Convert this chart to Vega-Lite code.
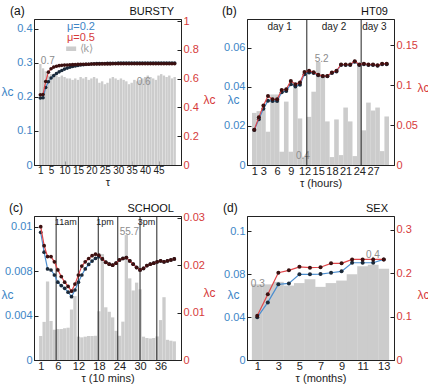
{
"$schema": "https://vega.github.io/schema/vega-lite/v6.json",
"background": "white",
"autosize": {"type": "pad"},
"padding": {"left": 0, "top": 4, "right": 0, "bottom": 0},
"columns": 2,
"bounds": "flush",
"spacing": {"row": 51, "column": 66},
"resolve": {"scale": {"x": "independent", "y": "independent", "color": "independent"}},
"concat": [
{
 "width": 147, "height": 146,
 "data": {"values": [
  {"T":1,"k":0.70,"b":0.197,"r":0.488},{"T":2,"k":0.67,"b":0.198,"r":0.490},{"T":3,"k":0.65,"b":0.228,"r":0.580},
  {"T":4,"k":0.62,"b":0.245,"r":0.645},{"T":5,"k":0.63,"b":0.256,"r":0.668},{"T":6,"k":0.61,"b":0.263,"r":0.680},
  {"T":7,"k":0.62,"b":0.269,"r":0.686},{"T":8,"k":0.61,"b":0.274,"r":0.690},{"T":9,"k":0.62,"b":0.278,"r":0.692},
  {"T":10,"k":0.61,"b":0.282,"r":0.694},{"T":11,"k":0.60,"b":0.285,"r":0.695},{"T":12,"k":0.60,"b":0.2875,"r":0.696},
  {"T":13,"k":0.59,"b":0.290,"r":0.697},{"T":14,"k":0.60,"b":0.2915,"r":0.698},{"T":15,"k":0.59,"b":0.293,"r":0.699},
  {"T":16,"k":0.61,"b":0.294,"r":0.700},{"T":17,"k":0.60,"b":0.295,"r":0.700},{"T":18,"k":0.61,"b":0.296,"r":0.700},
  {"T":19,"k":0.59,"b":0.2965,"r":0.700},{"T":20,"k":0.60,"b":0.297,"r":0.701},{"T":21,"k":0.61,"b":0.2975,"r":0.701},
  {"T":22,"k":0.60,"b":0.298,"r":0.701},{"T":23,"k":0.57,"b":0.298,"r":0.701},{"T":24,"k":0.58,"b":0.2985,"r":0.702},
  {"T":25,"k":0.56,"b":0.2985,"r":0.702},{"T":26,"k":0.57,"b":0.299,"r":0.702},{"T":27,"k":0.60,"b":0.299,"r":0.702},
  {"T":28,"k":0.61,"b":0.299,"r":0.703},{"T":29,"k":0.60,"b":0.299,"r":0.703},{"T":30,"k":0.59,"b":0.2995,"r":0.703},
  {"T":31,"k":0.60,"b":0.2995,"r":0.703},{"T":32,"k":0.59,"b":0.2995,"r":0.703},{"T":33,"k":0.58,"b":0.2995,"r":0.703},
  {"T":34,"k":0.56,"b":0.2995,"r":0.703},{"T":35,"k":0.57,"b":0.2995,"r":0.703},{"T":36,"k":0.59,"b":0.2995,"r":0.703},
  {"T":37,"k":0.58,"b":0.3,"r":0.703},{"T":38,"k":0.59,"b":0.3,"r":0.703},{"T":39,"k":0.60,"b":0.3,"r":0.703},
  {"T":40,"k":0.61,"b":0.3,"r":0.703},{"T":41,"k":0.62,"b":0.3,"r":0.703},{"T":42,"k":0.61,"b":0.3,"r":0.703},
  {"T":43,"k":0.60,"b":0.3,"r":0.703},{"T":44,"k":0.59,"b":0.3,"r":0.703},{"T":45,"k":0.62,"b":0.3,"r":0.703},
  {"T":46,"k":0.63,"b":0.3,"r":0.703},{"T":47,"k":0.62,"b":0.3,"r":0.703},{"T":48,"k":0.61,"b":0.3,"r":0.703},
  {"T":49,"k":0.62,"b":0.3,"r":0.703},{"T":50,"k":0.60,"b":0.3,"r":0.703},{"T":51,"k":0.61,"b":0.3,"r":0.703}
 ]},
 "encoding": {"x": {"field": "T", "type": "quantitative", "scale": {"domain": [0.5, 51.5], "nice": false, "zero": false},
   "axis": {"values": [1,5,10,15,20,25,30,35,40,45], "format": "d", "title": "τ", "labelFontSize": 10}}},
 "layer": [
  {"mark": {"type": "bar", "width": 2.4, "color": "#cccccc"},
   "encoding": {"y": {"field": "k", "type": "quantitative", "scale": {"domain": [0, 1.012]}, "axis": null}}},
  {"data": {"values": [{"T": 1.19, "v": 0.719, "label": "0.7"}, {"T": 36.9, "v": 0.573, "label": "0.6"}]},
   "mark": {"type": "text", "align": "left", "baseline": "middle", "fontSize": 10, "color": "#8c8c8c"},
   "encoding": {"y": {"field": "v", "type": "quantitative", "scale": {"domain": [0, 1.012]}, "axis": null}, "text": {"field": "label"}}},
  {"mark": {"type": "line", "color": "#4b8ed0", "strokeWidth": 1.2, "point": {"filled": true, "color": "#1b2a3a", "size": 13}},
   "encoding": {"y": {"field": "b", "type": "quantitative", "scale": {"domain": [0, 0.4294], "nice": false},
     "axis": {"orient": "left", "values": [0, 0.1, 0.2, 0.3, 0.4], "format": "~g", "title": "λc", "titleAngle": 0, "titleX": -33, "titleY": 72, "titleAlign": "left", "titleBaseline": "middle", "labelColor": "#3d85c6", "titleColor": "#3d85c6"}}}},
  {"mark": {"type": "line", "color": "#e0464a", "strokeWidth": 1.2, "point": {"filled": true, "color": "#3b1010", "size": 13}},
   "encoding": {"y": {"field": "r", "type": "quantitative", "scale": {"domain": [0, 1.014], "nice": false},
     "axis": {"orient": "right", "values": [0, 0.2, 0.4, 0.6, 0.8, 1], "format": "~g", "title": "λc", "titleAngle": 0, "titleX": 22, "titleY": 80, "titleAlign": "left", "titleBaseline": "middle", "labelColor": "#d63b3b", "titleColor": "#d63b3b"}}}},
  {"data": {"values": [{"T": 10.9, "v": 0.406, "label": "μ=0.2"}, {"T": 10.9, "v": 0.3744, "label": "μ=0.5"}, {"T": 15.6, "v": 0.342, "label": "⟨k⟩"}]},
   "mark": {"type": "text", "align": "left", "baseline": "middle", "fontSize": 11},
   "encoding": {"y": {"field": "v", "type": "quantitative", "scale": {"domain": [0, 0.4294], "nice": false}, "axis": null}, "text": {"field": "label"},
     "color": {"field": "label", "type": "nominal", "scale": {"domain": ["μ=0.2", "μ=0.5", "⟨k⟩"], "range": ["#3d85c6", "#d63b3b", "#a0a0a0"]}, "legend": null}}},
  {"data": {"values": [{"T": 12.47, "v": 0.342}]},
   "mark": {"type": "point", "shape": "M-1,-0.45H1V0.45H-1Z", "filled": true, "color": "#cccccc", "size": 100, "opacity": 1},
   "encoding": {"y": {"field": "v", "type": "quantitative", "scale": {"domain": [0, 0.4294], "nice": false}, "axis": null}}},
  {"data": {"values": [{"T": 51.5, "v": 1, "label": "BURSTY"}]},
   "mark": {"type": "text", "align": "right", "baseline": "bottom", "dx": -2, "dy": -2, "fontSize": 11, "color": "#111"},
   "encoding": {"y": {"field": "v", "type": "quantitative", "scale": {"domain": [0, 1]}, "axis": null}, "text": {"field": "label"}}},
  {"data": {"values": [{"T": 0.5, "v": 1, "label": "(a)"}]},
   "mark": {"type": "text", "align": "left", "baseline": "bottom", "dx": -29, "dy": -1, "fontSize": 12, "color": "#111"},
   "encoding": {"y": {"field": "v", "type": "quantitative", "scale": {"domain": [0, 1]}, "axis": null}, "text": {"field": "label"}}}
 ],
 "resolve": {"scale": {"y": "independent"}}
},
{
 "width": 147, "height": 146,
 "data": {"values": [
  {"T":1,"k":2.63,"b":0.0179,"r":0.0443},{"T":2,"k":2.72,"b":0.0235,"r":0.0597},{"T":3,"k":2.77,"b":0.0288,"r":0.0747},
  {"T":4,"k":1.68,"b":0.0330,"r":0.0864},{"T":5,"k":3.56,"b":0.0328,"r":0.0823},{"T":6,"k":3.56,"b":0.0328,"r":0.0823},
  {"T":7,"k":0.67,"b":0.0373,"r":0.0939},{"T":8,"k":3.2,"b":0.0380,"r":0.0949},{"T":9,"k":0.67,"b":0.0414,"r":0.1053},
  {"T":10,"k":3.9,"b":0.0403,"r":0.1013},{"T":11,"k":2.35,"b":0.0411,"r":0.1033},{"T":12,"k":0.42,"b":0.0466,"r":0.1165},
  {"T":13,"k":2.43,"b":0.0474,"r":0.1182},{"T":14,"k":3.7,"b":0.0472,"r":0.1163},{"T":15,"k":5.2,"b":0.0460,"r":0.1130},
  {"T":16,"k":4.5,"b":0.0455,"r":0.1117},{"T":17,"k":2.2,"b":0.0455,"r":0.1117},{"T":18,"k":0.4,"b":0.0472,"r":0.116},
  {"T":19,"k":2.3,"b":0.0480,"r":0.118},{"T":20,"k":0.5,"b":0.0513,"r":0.126},{"T":21,"k":2.9,"b":0.0513,"r":0.126},
  {"T":22,"k":2.2,"b":0.0513,"r":0.126},{"T":23,"k":0.45,"b":0.0529,"r":0.130},{"T":24,"k":5.1,"b":0.0513,"r":0.126},
  {"T":25,"k":1.75,"b":0.0517,"r":0.127},{"T":26,"k":3.15,"b":0.0513,"r":0.126},{"T":27,"k":2.75,"b":0.0513,"r":0.126},
  {"T":28,"k":2.9,"b":0.0509,"r":0.125},{"T":29,"k":0.7,"b":0.0517,"r":0.127},{"T":30,"k":2.45,"b":0.0517,"r":0.127}
 ]},
 "encoding": {"x": {"field": "T", "type": "quantitative", "scale": {"domain": [0.5, 30.5], "nice": false, "zero": false},
   "axis": {"values": [1,3,6,9,12,15,18,21,24,27], "format": "d", "title": "τ (hours)"}}},
 "layer": [
  {"mark": {"type": "bar", "width": 4.6, "color": "#cccccc"},
   "encoding": {"y": {"field": "k", "type": "quantitative", "scale": {"domain": [0, 7.37]}, "axis": null}}},
  {"data": {"values": [{"T": 15.74, "v": 5.37, "label": "5.2"}, {"T": 11.66, "v": 0.44, "label": "0.4"}]},
   "mark": {"type": "text", "align": "center", "baseline": "middle", "fontSize": 10, "color": "#8c8c8c"},
   "encoding": {"y": {"field": "v", "type": "quantitative", "scale": {"domain": [0, 7.37]}, "axis": null}, "text": {"field": "label"}}},
  {"data": {"values": [{"T": 12.5}, {"T": 24.4}]},
   "mark": {"type": "rule", "color": "#222", "strokeWidth": 1}, "encoding": {}},
  {"mark": {"type": "line", "color": "#4b8ed0", "strokeWidth": 1.2, "point": {"filled": true, "color": "#1b2a3a", "size": 16}},
   "encoding": {"y": {"field": "b", "type": "quantitative", "scale": {"domain": [0, 0.07487], "nice": false},
     "axis": {"orient": "left", "values": [0, 0.02, 0.04, 0.06], "format": "~g", "title": "λc", "titleAngle": 0, "titleX": -20, "titleY": 80, "titleAlign": "left", "titleBaseline": "middle", "labelColor": "#3d85c6", "titleColor": "#3d85c6"}}}},
  {"mark": {"type": "line", "color": "#e0464a", "strokeWidth": 1.2, "point": {"filled": true, "color": "#3b1010", "size": 16}},
   "encoding": {"y": {"field": "r", "type": "quantitative", "scale": {"domain": [0, 0.183], "nice": false},
     "axis": {"orient": "right", "values": [0, 0.05, 0.1, 0.15], "format": "~g", "title": "λc", "titleAngle": 0, "titleX": 23, "titleY": 68, "titleAlign": "left", "titleBaseline": "middle", "labelColor": "#d63b3b", "titleColor": "#d63b3b"}}}},
  {"data": {"values": [{"T": 6.56, "v": 0.0708, "label": "day 1"}, {"T": 18.46, "v": 0.0708, "label": "day 2"}, {"T": 27.3, "v": 0.0708, "label": "day 3"}]},
   "mark": {"type": "text", "align": "center", "baseline": "middle", "fontSize": 10, "color": "#222"},
   "encoding": {"y": {"field": "v", "type": "quantitative", "scale": {"domain": [0, 0.07487], "nice": false}, "axis": null}, "text": {"field": "label"}}},
  {"data": {"values": [{"T": 30.5, "v": 1, "label": "HT09"}]},
   "mark": {"type": "text", "align": "right", "baseline": "bottom", "dx": -1, "dy": -2, "fontSize": 11, "color": "#111"},
   "encoding": {"y": {"field": "v", "type": "quantitative", "scale": {"domain": [0, 1]}, "axis": null}, "text": {"field": "label"}}},
  {"data": {"values": [{"T": 0.5, "v": 1, "label": "(b)"}]},
   "mark": {"type": "text", "align": "left", "baseline": "bottom", "dx": -30, "dy": -1, "fontSize": 12, "color": "#111"},
   "encoding": {"y": {"field": "v", "type": "quantitative", "scale": {"domain": [0, 1]}, "axis": null}, "text": {"field": "label"}}}
 ],
 "resolve": {"scale": {"y": "independent"}}
},
{
 "width": 147, "height": 144,
 "data": {"values": [
  {"T":1,"k":10.7,"b":0.01149,"r":0.0281},{"T":2,"k":17,"b":0.0097,"r":0.0241},{"T":3,"k":35,"b":0.0082,"r":0.0218},
  {"T":4,"k":17.4,"b":0.0081,"r":0.0218},{"T":5,"k":13.5,"b":0.00765,"r":0.0207},{"T":6,"k":13.8,"b":0.0070,"r":0.0190},
  {"T":7,"k":13.8,"b":0.0067,"r":0.0176},{"T":8,"k":14.1,"b":0.00645,"r":0.0164},{"T":9,"k":14.4,"b":0.0061,"r":0.0155},
  {"T":10,"k":22.5,"b":0.0057,"r":0.0145},{"T":11,"k":28.5,"b":0.0063,"r":0.0160},{"T":12,"k":10.4,"b":0.0070,"r":0.0179},
  {"T":13,"k":10.1,"b":0.00765,"r":0.0198},{"T":14,"k":10.4,"b":0.0082,"r":0.0207},{"T":15,"k":10.7,"b":0.0086,"r":0.0214},
  {"T":16,"k":10.7,"b":0.0089,"r":0.0220},{"T":17,"k":10.8,"b":0.00915,"r":0.0223},{"T":18,"k":21.7,"b":0.0093,"r":0.0221},
  {"T":19,"k":47.2,"b":0.0091,"r":0.0213},{"T":20,"k":23.5,"b":0.0088,"r":0.0206},{"T":21,"k":21.5,"b":0.00863,"r":0.0202},
  {"T":22,"k":19,"b":0.00854,"r":0.0200},{"T":23,"k":13,"b":0.00871,"r":0.0204},{"T":24,"k":10.8,"b":0.0090,"r":0.0211},
  {"T":25,"k":17.1,"b":0.00914,"r":0.0214},{"T":26,"k":55.7,"b":0.00922,"r":0.0216},{"T":27,"k":36.4,"b":0.00892,"r":0.0209},
  {"T":28,"k":31,"b":0.00863,"r":0.0202},{"T":29,"k":34.5,"b":0.00833,"r":0.0195},{"T":30,"k":31.5,"b":0.00811,"r":0.0190},
  {"T":31,"k":10.4,"b":0.00824,"r":0.0193},{"T":32,"k":9.8,"b":0.0085,"r":0.0199},{"T":33,"k":9.6,"b":0.00863,"r":0.0202},
  {"T":34,"k":9.8,"b":0.00871,"r":0.0204},{"T":35,"k":10.5,"b":0.00884,"r":0.0207},{"T":36,"k":17.8,"b":0.00892,"r":0.0209},
  {"T":37,"k":28,"b":0.00884,"r":0.0207},{"T":38,"k":9,"b":0.00892,"r":0.0209},{"T":39,"k":8.6,"b":0.0090,"r":0.0211},
  {"T":40,"k":8.3,"b":0.0091,"r":0.0213}
 ]},
 "encoding": {"x": {"field": "T", "type": "quantitative", "scale": {"domain": [0.5, 40.5], "nice": false, "zero": false},
   "axis": {"values": [1,6,12,18,24,30,36], "format": "d", "title": "τ (10 mins)"}}},
 "layer": [
  {"mark": {"type": "bar", "width": 3.3, "color": "#cccccc"},
   "encoding": {"y": {"field": "k", "type": "quantitative", "scale": {"domain": [0, 64.2]}, "axis": null}}},
  {"data": {"values": [{"T": 26.9, "v": 57.2, "label": "55.7"}]},
   "mark": {"type": "text", "align": "center", "baseline": "middle", "fontSize": 10, "color": "#8c8c8c"},
   "encoding": {"y": {"field": "v", "type": "quantitative", "scale": {"domain": [0, 64.2]}, "axis": null}, "text": {"field": "label"}}},
  {"data": {"values": [{"T": 5.5}, {"T": 12}, {"T": 17.8}, {"T": 23.5}, {"T": 30}, {"T": 34.9}]},
   "mark": {"type": "rule", "color": "#222", "strokeWidth": 1}, "encoding": {}},
  {"mark": {"type": "line", "color": "#4b8ed0", "strokeWidth": 1.2, "point": {"filled": true, "color": "#1b2a3a", "size": 14}},
   "encoding": {"y": {"field": "b", "type": "quantitative", "scale": {"domain": [0, 0.01296], "nice": false},
     "axis": {"orient": "left", "values": [0, 0.004, 0.008, 0.012], "format": "~g", "title": "λc", "titleAngle": 0, "titleX": -33, "titleY": 78, "titleAlign": "left", "titleBaseline": "middle", "labelColor": "#3d85c6", "titleColor": "#3d85c6"}}}},
  {"mark": {"type": "line", "color": "#e0464a", "strokeWidth": 1.2, "point": {"filled": true, "color": "#3b1010", "size": 14}},
   "encoding": {"y": {"field": "r", "type": "quantitative", "scale": {"domain": [0, 0.03036], "nice": false},
     "axis": {"orient": "right", "values": [0, 0.01, 0.02, 0.03], "format": "~g", "title": "λc", "titleAngle": 0, "titleX": 22, "titleY": 76, "titleAlign": "left", "titleBaseline": "middle", "labelColor": "#d63b3b", "titleColor": "#d63b3b"}}}},
  {"data": {"values": [{"T": 8.3, "v": 0.01245, "label": "11am"}, {"T": 19.8, "v": 0.01245, "label": "1pm"}, {"T": 31.9, "v": 0.01245, "label": "3pm"}]},
   "mark": {"type": "text", "align": "center", "baseline": "middle", "fontSize": 9, "color": "#222"},
   "encoding": {"y": {"field": "v", "type": "quantitative", "scale": {"domain": [0, 0.01296], "nice": false}, "axis": null}, "text": {"field": "label"}}},
  {"data": {"values": [{"T": 40.5, "v": 1, "label": "SCHOOL"}]},
   "mark": {"type": "text", "align": "right", "baseline": "bottom", "dx": -2, "dy": -2, "fontSize": 11, "color": "#111"},
   "encoding": {"y": {"field": "v", "type": "quantitative", "scale": {"domain": [0, 1]}, "axis": null}, "text": {"field": "label"}}},
  {"data": {"values": [{"T": 0.5, "v": 1, "label": "(c)"}]},
   "mark": {"type": "text", "align": "left", "baseline": "bottom", "dx": -30, "dy": -1, "fontSize": 12, "color": "#111"},
   "encoding": {"y": {"field": "v", "type": "quantitative", "scale": {"domain": [0, 1]}, "axis": null}, "text": {"field": "label"}}}
 ],
 "resolve": {"scale": {"y": "independent"}}
},
{
 "width": 147, "height": 144,
 "data": {"values": [
  {"T":1,"k":0.30,"b":0.0397,"r":0.1023},{"T":2,"k":0.30,"b":0.0536,"r":0.1515},{"T":3,"k":0.31,"b":0.0704,"r":0.2015},
  {"T":4,"k":0.295,"b":0.0713,"r":0.207},{"T":5,"k":0.305,"b":0.0797,"r":0.215},{"T":6,"k":0.32,"b":0.0797,"r":0.213},
  {"T":7,"k":0.29,"b":0.0800,"r":0.214},{"T":8,"k":0.305,"b":0.0812,"r":0.223},{"T":9,"k":0.315,"b":0.0825,"r":0.223},
  {"T":10,"k":0.34,"b":0.0905,"r":0.232},{"T":11,"k":0.372,"b":0.0905,"r":0.232},{"T":12,"k":0.378,"b":0.0905,"r":0.232},
  {"T":13,"k":0.362,"b":0.0936,"r":0.232}
 ]},
 "encoding": {"x": {"field": "T", "type": "quantitative", "scale": {"domain": [0.5, 13.5], "nice": false, "zero": false},
   "axis": {"values": [1,3,5,7,9,11,13], "format": "d", "title": "τ (months)"}}},
 "layer": [
  {"mark": {"type": "bar", "width": 10.8, "color": "#cccccc"},
   "encoding": {"y": {"field": "k", "type": "quantitative", "scale": {"domain": [0, 0.571]}, "axis": null}}},
  {"data": {"values": [{"T": 1.05, "v": 0.30, "label": "0.3"}, {"T": 11.97, "v": 0.416, "label": "0.4"}]},
   "mark": {"type": "text", "align": "center", "baseline": "middle", "fontSize": 10, "color": "#8c8c8c"},
   "encoding": {"y": {"field": "v", "type": "quantitative", "scale": {"domain": [0, 0.571]}, "axis": null}, "text": {"field": "label"}}},
  {"mark": {"type": "line", "color": "#4b8ed0", "strokeWidth": 1.2, "point": {"filled": true, "color": "#1b2a3a", "size": 16}},
   "encoding": {"y": {"field": "b", "type": "quantitative", "scale": {"domain": [0, 0.134], "nice": false},
     "axis": {"orient": "left", "values": [0, 0.04, 0.08, 0.12], "format": "~g", "title": "λc", "titleAngle": 0, "titleX": -20, "titleY": 78, "titleAlign": "left", "titleBaseline": "middle", "labelColor": "#3d85c6", "titleColor": "#3d85c6"}}}},
  {"mark": {"type": "line", "color": "#e0464a", "strokeWidth": 1.2, "point": {"filled": true, "color": "#3b1010", "size": 16}},
   "encoding": {"y": {"field": "r", "type": "quantitative", "scale": {"domain": [0, 0.3323], "nice": false},
     "axis": {"orient": "right", "values": [0, 0.1, 0.2, 0.3], "format": "~g", "title": "λc", "titleAngle": 0, "titleX": 23, "titleY": 78, "titleAlign": "left", "titleBaseline": "middle", "labelColor": "#d63b3b", "titleColor": "#d63b3b"}}}},
  {"data": {"values": [{"T": 13.5, "v": 1, "label": "SEX"}]},
   "mark": {"type": "text", "align": "right", "baseline": "bottom", "dx": -1, "dy": -2, "fontSize": 11, "color": "#111"},
   "encoding": {"y": {"field": "v", "type": "quantitative", "scale": {"domain": [0, 1]}, "axis": null}, "text": {"field": "label"}}},
  {"data": {"values": [{"T": 0.5, "v": 1, "label": "(d)"}]},
   "mark": {"type": "text", "align": "left", "baseline": "bottom", "dx": -29, "dy": -1, "fontSize": 12, "color": "#111"},
   "encoding": {"y": {"field": "v", "type": "quantitative", "scale": {"domain": [0, 1]}, "axis": null}, "text": {"field": "label"}}}
 ],
 "resolve": {"scale": {"y": "independent"}}
}
],
"config": {
 "font": "Liberation Sans",
 "view": {"stroke": "#222", "strokeWidth": 1},
 "axis": {"domainColor": "#222", "tickColor": "#222", "tickSize": -4, "labelFontSize": 11, "titleFontSize": 12, "titleFontWeight": "normal", "grid": false, "labelPadding": 6, "labelFont": "Liberation Sans", "titleFont": "Liberation Sans", "labelColor": "#222", "titleColor": "#222", "labelFlush": false, "labelOverlap": false, "titlePadding": 3},
 "axisX": {"labelPadding": 4, "titlePadding": 1, "titleFontSize": 11}
}
}
